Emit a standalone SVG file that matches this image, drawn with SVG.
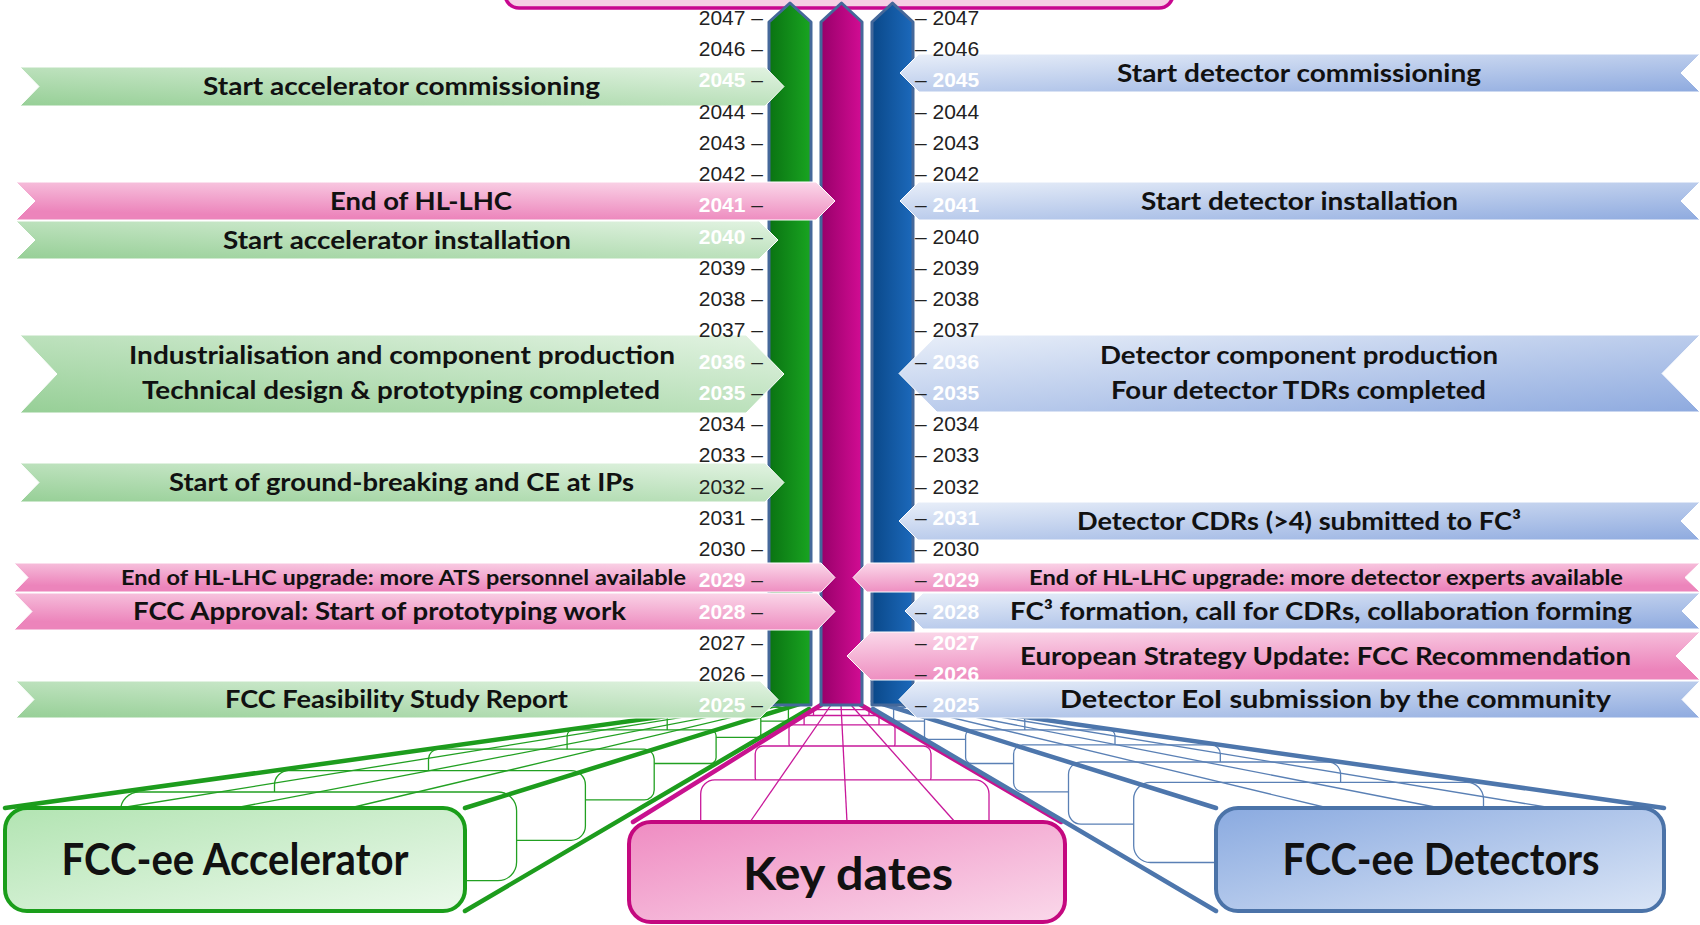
<svg xmlns="http://www.w3.org/2000/svg" width="1700" height="925" viewBox="0 0 1700 925">
<defs>
  <linearGradient id="gBan" x1="1" y1="0" x2="0" y2="1">
    <stop offset="0" stop-color="#e2f3e2"/>
    <stop offset="1" stop-color="#96cf96"/>
  </linearGradient>
  <linearGradient id="pBanL" x1="1" y1="0" x2="0.6" y2="1">
    <stop offset="0" stop-color="#fbd9ea"/>
    <stop offset="1" stop-color="#ec84bb"/>
  </linearGradient>
  <linearGradient id="pBanR" x1="0" y1="0" x2="0.4" y2="1">
    <stop offset="0" stop-color="#fbd9ea"/>
    <stop offset="1" stop-color="#ec84bb"/>
  </linearGradient>
  <linearGradient id="bBan" x1="0" y1="0" x2="1" y2="1">
    <stop offset="0" stop-color="#e9eff9"/>
    <stop offset="1" stop-color="#8eaadf"/>
  </linearGradient>
  <linearGradient id="gBar" x1="0" y1="0" x2="1" y2="0">
    <stop offset="0" stop-color="#0a7312"/>
    <stop offset="1" stop-color="#19a521"/>
  </linearGradient>
  <linearGradient id="mBar" x1="0" y1="0" x2="1" y2="0">
    <stop offset="0" stop-color="#98006a"/>
    <stop offset="1" stop-color="#d20c93"/>
  </linearGradient>
  <linearGradient id="bBar" x1="0" y1="0" x2="1" y2="0">
    <stop offset="0" stop-color="#0a4889"/>
    <stop offset="1" stop-color="#1c69bb"/>
  </linearGradient>
  <linearGradient id="gBox" x1="0" y1="0" x2="1" y2="1">
    <stop offset="0" stop-color="#b2e4b2"/>
    <stop offset="1" stop-color="#ecf9ec"/>
  </linearGradient>
  <linearGradient id="mBox" x1="0" y1="0" x2="1" y2="1">
    <stop offset="0" stop-color="#ef8cc2"/>
    <stop offset="1" stop-color="#fad8ea"/>
  </linearGradient>
  <linearGradient id="bBox" x1="0" y1="0" x2="1" y2="1">
    <stop offset="0" stop-color="#8aaae0"/>
    <stop offset="1" stop-color="#dae5f6"/>
  </linearGradient>
</defs>
<style>
  .yr { font-family: "Liberation Sans", Arial, sans-serif; font-size: 21px; fill: #222; }
  .yl { text-anchor: end; }
  .w { fill: #fff; font-weight: bold; }
  .bt { font-family: Lato, "Open Sans", sans-serif; font-weight: bold; font-size: 24px; fill: #111; text-anchor: middle; }
  .sm { font-size: 20px; }
  .big { font-family: Lato, "Open Sans", sans-serif; font-weight: bold; font-size: 44px; fill: #111; text-anchor: middle; }
  .kd { font-size: 46px; }
  .bar { stroke: #45689a; stroke-width: 3; stroke-linejoin: round; }
  .ban { stroke: #ffffff; stroke-width: 1; }
  .fg { fill: #fff; stroke: #22a022; stroke-width: 1.3; }
  .fm { fill: #fff; stroke: #c8189a; stroke-width: 1.3; }
  .fb { fill: #fff; stroke: #5a80b5; stroke-width: 1.3; }
  .tg { stroke: #1d9c1d; stroke-width: 4.5; stroke-linecap: round; }
  .tm { stroke: #c8128f; stroke-width: 4.5; stroke-linecap: round; }
  .tb { stroke: #4d76ac; stroke-width: 4.5; stroke-linecap: round; }
  .lg { stroke: #22a022; stroke-width: 1.3; }
  .lm { stroke: #c8189a; stroke-width: 1.3; }
  .lb { stroke: #5a80b5; stroke-width: 1.3; }
</style>

<rect width="1700" height="925" fill="#ffffff"/>

<!-- heading frame, mostly above the visible area -->
<g id="heading">
  <rect x="505" y="-60" width="668" height="68" rx="14" fill="#f6cfe4" stroke="#c8078f" stroke-width="3.5"/>
</g>

<!-- perspective tubes linking the timelines to their boxes -->
<g id="connectors">
  <g id="tube-accelerator">
    <rect class="fg" x="728.8" y="707.4" width="59.6" height="13.7" rx="1.3"/>
    <rect class="fg" x="667.2" y="716" width="93.6" height="21.3" rx="3.1"/>
    <rect class="fg" x="567.1" y="729.9" width="149" height="33.6" rx="5.9"/>
    <rect class="fg" x="428.5" y="749.2" width="225.7" height="50.7" rx="9.9"/>
    <rect class="fg" x="274.5" y="770.6" width="310.9" height="69.7" rx="14.3"/>
    <rect class="fg" x="120.5" y="792" width="396.1" height="88.7" rx="18.7"/>
    <line class="lg" x1="120" y1="808" x2="783.5" y2="701"/>
    <line class="lg" x1="235" y1="808" x2="792" y2="701"/>
    <line class="lg" x1="350" y1="808" x2="800.5" y2="701"/>
    <line class="tg" x1="5" y1="808" x2="775" y2="701"/>
    <line class="tg" x1="465" y1="808" x2="809" y2="701"/>
    <line class="tg" x1="465" y1="911" x2="809" y2="709"/>
  </g>
  <g id="tube-keydates">
    <rect class="fm" x="813.5" y="709.7" width="55.5" height="10.7" rx="1"/>
    <rect class="fm" x="804.1" y="715.5" width="74.9" height="15.4" rx="2"/>
    <rect class="fm" x="789" y="724.9" width="106" height="22.8" rx="3.7"/>
    <rect class="fm" x="755.2" y="746" width="175.8" height="39.5" rx="7.7"/>
    <rect class="fm" x="700.7" y="779.9" width="288.3" height="66.5" rx="14"/>
    <line class="lm" x1="750" y1="822" x2="831" y2="705"/>
    <line class="lm" x1="847" y1="822" x2="841" y2="705"/>
    <line class="lm" x1="955" y1="822" x2="851" y2="705"/>
    <line class="tm" x1="633" y1="822" x2="821" y2="705"/>
    <line class="tm" x1="1061" y1="822" x2="861" y2="705"/>
  </g>
  <g id="tube-detectors">
    <rect class="fb" x="893.6" y="707.4" width="63.5" height="13.7" rx="1.3"/>
    <rect class="fb" x="924.5" y="717.1" width="100.3" height="22.2" rx="3.3"/>
    <rect class="fb" x="965.6" y="729.9" width="149.4" height="33.6" rx="5.9"/>
    <rect class="fb" x="1013.6" y="744.9" width="206.7" height="46.9" rx="9"/>
    <rect class="fb" x="1068.5" y="762" width="272.1" height="62.1" rx="12.5"/>
    <rect class="fb" x="1133.7" y="782.3" width="349.8" height="80.2" rx="16.7"/>
    <line class="lb" x1="1328" y1="808" x2="882.8" y2="701"/>
    <line class="lb" x1="1440" y1="808" x2="892.5" y2="701"/>
    <line class="lb" x1="1552" y1="808" x2="902.3" y2="701"/>
    <line class="tb" x1="1664" y1="808" x2="912" y2="701"/>
    <line class="tb" x1="1216" y1="808" x2="873" y2="701"/>
    <line class="tb" x1="1216" y1="911" x2="873" y2="709"/>
  </g>
</g>

<!-- front boxes -->
<g id="box-accelerator">
  <rect x="5" y="808" width="460" height="103" rx="22" fill="url(#gBox)" stroke="#1a9e1a" stroke-width="4"/>
  <text class="big" x="235" y="875" textLength="347" lengthAdjust="spacingAndGlyphs">FCC-ee Accelerator</text>
</g>
<g id="box-keydates">
  <rect x="629" y="822" width="436" height="100" rx="22" fill="url(#mBox)" stroke="#c4087f" stroke-width="4"/>
  <text class="big kd" x="848" y="890" textLength="210" lengthAdjust="spacingAndGlyphs">Key dates</text>
</g>
<g id="box-detectors">
  <rect x="1216" y="808" width="448" height="103" rx="22" fill="url(#bBox)" stroke="#4b73a8" stroke-width="4"/>
  <text class="big" x="1441" y="875" textLength="317" lengthAdjust="spacingAndGlyphs">FCC-ee Detectors</text>
</g>

<!-- vertical timeline arrows -->
<g id="bar-accelerator"><path class="bar" fill="url(#gBar)" d="M769,705 V22 L790,3 L811,22 V705 Z"/></g>
<g id="bar-keydates"><path class="bar" fill="url(#mBar)" d="M821,705 V22 L841.5,3 L862,22 V705 Z"/></g>
<g id="bar-detectors"><path class="bar" fill="url(#bBar)" d="M872,705 V22 L892.5,3 L913,22 V705 Z"/></g>

<!-- accelerator side milestones -->
<g id="acc-commissioning">
  <path class="ban" fill="url(#gBan)" d="M20,67 H765 L784,86.5 L765,106 H20 L39,86.5 Z"/>
  <text class="bt" x="401.5" y="95" textLength="397" lengthAdjust="spacingAndGlyphs">Start accelerator commissioning</text>
</g>
<g id="end-hllhc">
  <path class="ban" fill="url(#pBanL)" d="M16,182 H816 L835,201 L816,220 H16 L35,201 Z"/>
  <text class="bt" x="421" y="210" textLength="182" lengthAdjust="spacingAndGlyphs">End of HL-LHC</text>
</g>
<g id="acc-installation">
  <path class="ban" fill="url(#gBan)" d="M16,221 H759 L778,240 L759,259 H16 L35,240 Z"/>
  <text class="bt" x="397" y="249" textLength="348" lengthAdjust="spacingAndGlyphs">Start accelerator installation</text>
</g>
<g id="acc-production">
  <path class="ban" fill="url(#gBan)" d="M20,335 H746 L784,374 L746,413 H20 L57,374 Z"/>
  <text class="bt" x="402" y="364" textLength="546" lengthAdjust="spacingAndGlyphs">Industrialisation and component production</text>
  <text class="bt" x="401" y="399" textLength="518" lengthAdjust="spacingAndGlyphs">Technical design &amp; prototyping completed</text>
</g>
<g id="acc-groundbreaking">
  <path class="ban" fill="url(#gBan)" d="M20,463 H765 L784,482.5 L765,502 H20 L39,482.5 Z"/>
  <text class="bt" x="401.5" y="491" textLength="465" lengthAdjust="spacingAndGlyphs">Start of ground-breaking and CE at IPs</text>
</g>
<g id="acc-hllhc-upgrade">
  <path class="ban" fill="url(#pBanL)" d="M14,563 H821 L835,577.5 L821,592 H14 L28,577.5 Z"/>
  <text class="bt sm" x="403.5" y="585" textLength="565" lengthAdjust="spacingAndGlyphs">End of HL-LHC upgrade: more ATS personnel available</text>
</g>
<g id="fcc-approval">
  <path class="ban" fill="url(#pBanL)" d="M14,593 H817 L835,611.5 L817,630 H14 L32,611.5 Z"/>
  <text class="bt" x="379.5" y="620" textLength="493" lengthAdjust="spacingAndGlyphs">FCC Approval: Start of prototyping work</text>
</g>
<g id="feasibility-report">
  <path class="ban" fill="url(#gBan)" d="M16,681 H760 L778,699.5 L760,718 H16 L34,699.5 Z"/>
  <text class="bt" x="396.5" y="708" textLength="343" lengthAdjust="spacingAndGlyphs">FCC Feasibility Study Report</text>
</g>

<!-- detector side milestones -->
<g id="det-commissioning">
  <path class="ban" fill="url(#bBan)" d="M900,73 L919,54 H1700 L1681,73 L1700,92 H919 Z"/>
  <text class="bt" x="1299" y="82" textLength="364" lengthAdjust="spacingAndGlyphs">Start detector commissioning</text>
</g>
<g id="det-installation">
  <path class="ban" fill="url(#bBan)" d="M900,201 L919,182 H1700 L1681,201 L1700,220 H919 Z"/>
  <text class="bt" x="1299.5" y="210" textLength="317" lengthAdjust="spacingAndGlyphs">Start detector installation</text>
</g>
<g id="det-production">
  <path class="ban" fill="url(#bBan)" d="M899,373.5 L937,335 H1700 L1662,373.5 L1700,412 H937 Z"/>
  <text class="bt" x="1299" y="364" textLength="398" lengthAdjust="spacingAndGlyphs">Detector component production</text>
  <text class="bt" x="1298.5" y="399" textLength="375" lengthAdjust="spacingAndGlyphs">Four detector TDRs completed</text>
</g>
<g id="det-cdrs">
  <path class="ban" fill="url(#bBan)" d="M899,521 L918,502 H1700 L1681,521 L1700,540 H918 Z"/>
  <text class="bt" x="1299" y="530" textLength="444" lengthAdjust="spacingAndGlyphs">Detector CDRs (&gt;4) submitted to FC³</text>
</g>
<g id="det-hllhc-upgrade">
  <path class="ban" fill="url(#pBanR)" d="M853,577.5 L867,563 H1700 L1685,577.5 L1700,592 H867 Z"/>
  <text class="bt sm" x="1326" y="585" textLength="594" lengthAdjust="spacingAndGlyphs">End of HL-LHC upgrade: more detector experts available</text>
</g>
<g id="fc3-formation">
  <path class="ban" fill="url(#bBan)" d="M905,611 L923,593 H1700 L1682,611 L1700,629 H923 Z"/>
  <text class="bt" x="1321" y="620" textLength="622" lengthAdjust="spacingAndGlyphs">FC³ formation, call for CDRs, collaboration forming</text>
</g>
<g id="strategy-update">
  <path class="ban" fill="url(#pBanR)" d="M847,656 L871,632 H1700 L1676,656 L1700,680 H871 Z"/>
  <text class="bt" x="1325.5" y="665" textLength="611" lengthAdjust="spacingAndGlyphs">European Strategy Update: FCC Recommendation</text>
</g>
<g id="det-eoi">
  <path class="ban" fill="url(#bBan)" d="M899,699.5 L917,681 H1700 L1682,699.5 L1700,718 H917 Z"/>
  <text class="bt" x="1335.5" y="708" textLength="551" lengthAdjust="spacingAndGlyphs">Detector EoI submission by the community</text>
</g>

<!-- year scale, left -->
<g id="years-left" class="yr yl">
  <text x="763" y="24.8">2047 –</text>
  <text x="763" y="56.05">2046 –</text>
  <text x="763" y="87.3"><tspan class="w">2045</tspan> –</text>
  <text x="763" y="118.55">2044 –</text>
  <text x="763" y="149.8">2043 –</text>
  <text x="763" y="181.05">2042 –</text>
  <text x="763" y="212.3"><tspan class="w">2041</tspan> –</text>
  <text x="763" y="243.55"><tspan class="w">2040</tspan> –</text>
  <text x="763" y="274.8">2039 –</text>
  <text x="763" y="306.05">2038 –</text>
  <text x="763" y="337.3">2037 –</text>
  <text x="763" y="368.55"><tspan class="w">2036</tspan> –</text>
  <text x="763" y="399.8"><tspan class="w">2035</tspan> –</text>
  <text x="763" y="431.05">2034 –</text>
  <text x="763" y="462.3">2033 –</text>
  <text x="763" y="493.55">2032 –</text>
  <text x="763" y="524.8">2031 –</text>
  <text x="763" y="556.05">2030 –</text>
  <text x="763" y="587.3"><tspan class="w">2029</tspan> –</text>
  <text x="763" y="618.55"><tspan class="w">2028</tspan> –</text>
  <text x="763" y="649.8">2027 –</text>
  <text x="763" y="681.05">2026 –</text>
  <text x="763" y="712.3"><tspan class="w">2025</tspan> –</text>
</g>

<!-- year scale, right -->
<g id="years-right" class="yr">
  <text x="915" y="24.8">– 2047</text>
  <text x="915" y="56.05">– 2046</text>
  <text x="915" y="87.3">– <tspan class="w">2045</tspan></text>
  <text x="915" y="118.55">– 2044</text>
  <text x="915" y="149.8">– 2043</text>
  <text x="915" y="181.05">– 2042</text>
  <text x="915" y="212.3">– <tspan class="w">2041</tspan></text>
  <text x="915" y="243.55">– 2040</text>
  <text x="915" y="274.8">– 2039</text>
  <text x="915" y="306.05">– 2038</text>
  <text x="915" y="337.3">– 2037</text>
  <text x="915" y="368.55">– <tspan class="w">2036</tspan></text>
  <text x="915" y="399.8">– <tspan class="w">2035</tspan></text>
  <text x="915" y="431.05">– 2034</text>
  <text x="915" y="462.3">– 2033</text>
  <text x="915" y="493.55">– 2032</text>
  <text x="915" y="524.8">– <tspan class="w">2031</tspan></text>
  <text x="915" y="556.05">– 2030</text>
  <text x="915" y="587.3">– <tspan class="w">2029</tspan></text>
  <text x="915" y="618.55">– <tspan class="w">2028</tspan></text>
  <text x="915" y="649.8">– <tspan class="w">2027</tspan></text>
  <text x="915" y="681.05">– <tspan class="w">2026</tspan></text>
  <text x="915" y="712.3">– <tspan class="w">2025</tspan></text>
</g>
</svg>
